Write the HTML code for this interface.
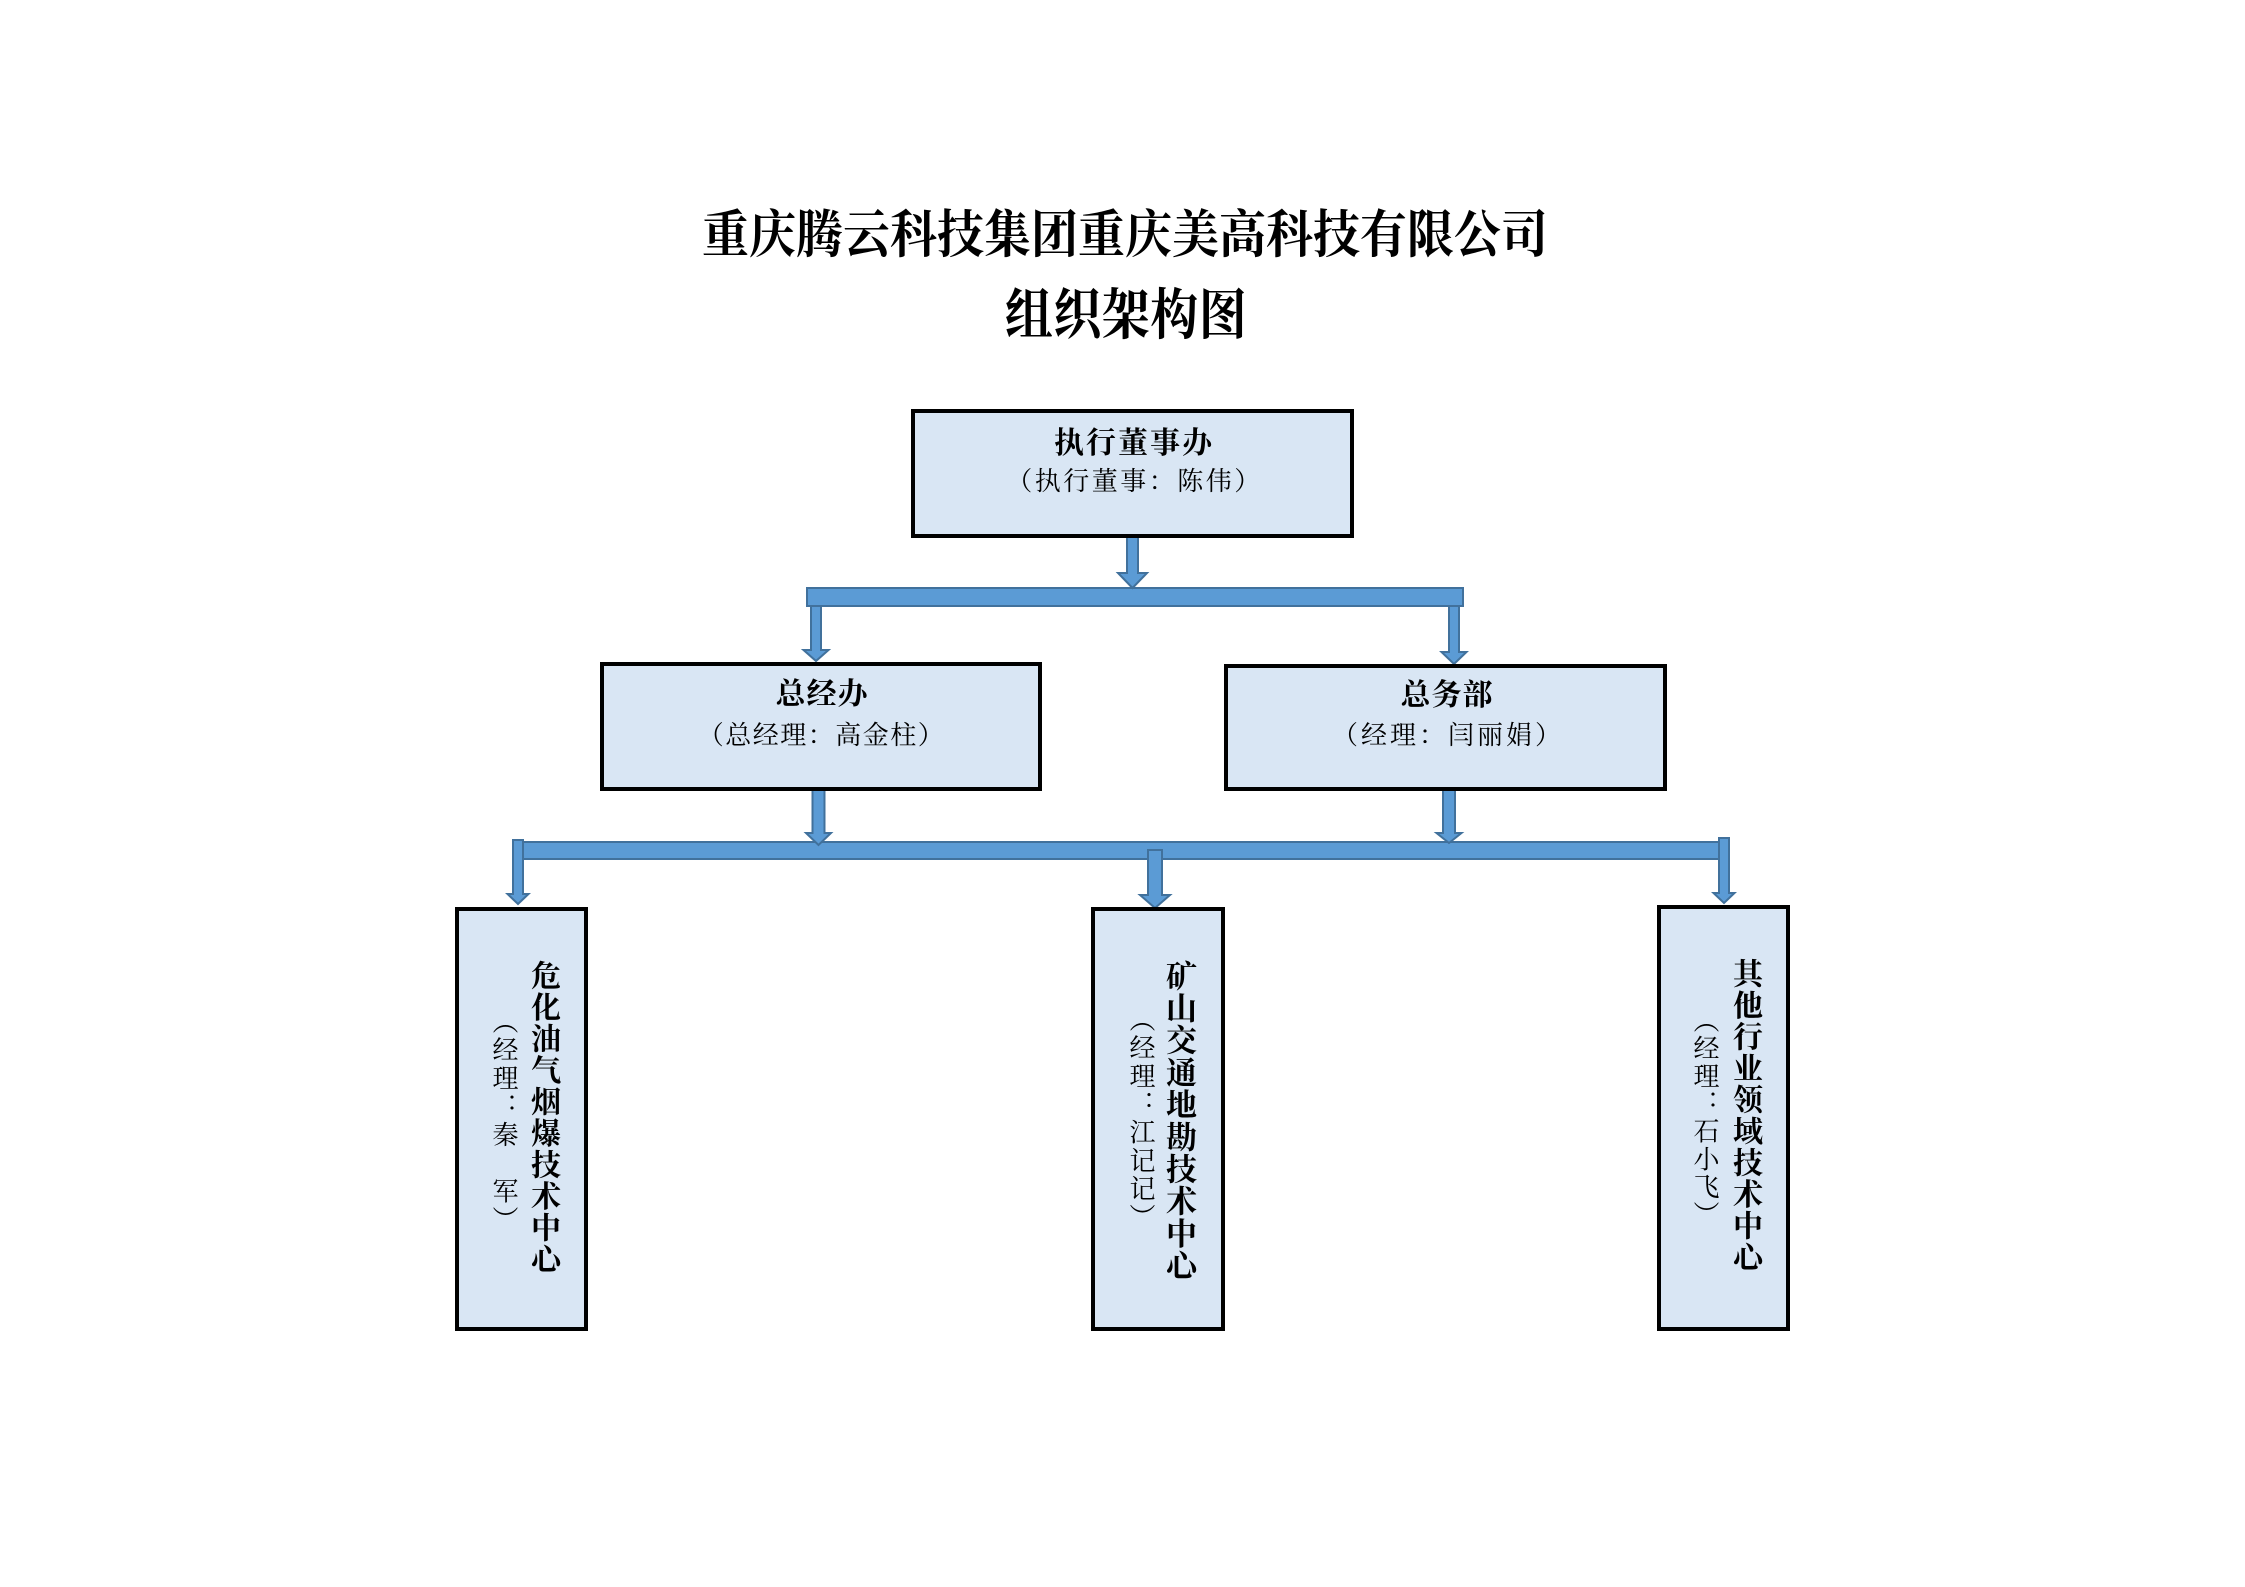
<!DOCTYPE html>
<html>
<head>
<meta charset="utf-8">
<style>
  html,body{margin:0;padding:0;background:#fff;}
  body{width:2245px;height:1587px;position:relative;overflow:hidden;}
  .box{position:absolute;box-sizing:border-box;border:4px solid #000;background:#d9e6f4;z-index:2;}
  .t{position:absolute;white-space:nowrap;text-align:center;color:#000;z-index:3;font-family:"Liberation Serif","Noto Serif CJK SC","Noto Sans CJK SC",serif;}
  .v{position:absolute;white-space:nowrap;writing-mode:vertical-rl;color:#000;z-index:3;font-family:"Liberation Serif","Noto Serif CJK SC","Noto Sans CJK SC",serif;}
  svg{position:absolute;left:0;top:0;z-index:1;}
</style>
</head>
<body>

<!-- Title -->
<div class="t" style="left:625px;width:1000px;top:213px;font-size:47px;line-height:47px;font-weight:bold;transform:scaleY(1.1);">重庆腾云科技集团重庆美高科技有限公司</div>
<div class="t" style="left:876px;width:500px;top:293px;font-size:48px;line-height:48px;font-weight:bold;letter-spacing:0.5px;transform:scaleY(1.15);">组织架构图</div>

<!-- Connectors -->
<svg width="2245" height="1587" viewBox="0 0 2245 1587">
  <g fill="#5b9bd5" stroke="#41719c" stroke-width="2" stroke-linejoin="miter">
    <rect x="807" y="588" width="656" height="18"/>
    <polygon points="1127,537 1138,537 1138,573 1147,573 1132.5,588 1118,573 1127,573"/>
    <polygon points="811,606 821,606 821,650 828.5,650 816,661 803.5,650 811,650"/>
    <polygon points="1449,606 1459,606 1459,652 1466.5,652 1454,664 1441.5,652 1449,652"/>

    <rect x="518" y="842" width="1206" height="17"/>
    <polygon points="812.5,790 824.5,790 824.5,833 831,833 818.5,845 806,833 812.5,833"/>
    <polygon points="1443,790 1455,790 1455,833 1461.5,833 1449,843 1436.5,833 1443,833"/>
    <polygon points="513,840 523,840 523,894 528.5,894 518,904 507.5,894 513,894"/>
    <polygon points="1148,850 1162,850 1162,895 1170,895 1155,908 1140,895 1148,895"/>
    <polygon points="1719,838 1729,838 1729,893 1734.5,893 1724,903 1713.5,893 1719,893"/>
  </g>
</svg>

<!-- Boxes -->
<div class="box" style="left:911px;top:409px;width:443px;height:129px;"></div>
<div class="box" style="left:600px;top:662px;width:442px;height:129px;"></div>
<div class="box" style="left:1224px;top:664px;width:443px;height:127px;"></div>
<div class="box" style="left:455px;top:907px;width:133px;height:424px;"></div>
<div class="box" style="left:1091px;top:907px;width:134px;height:424px;"></div>
<div class="box" style="left:1657px;top:905px;width:133px;height:426px;"></div>

<!-- Box A text -->
<div class="t" style="left:932px;width:400px;top:429px;font-size:30px;line-height:30px;font-weight:bold;letter-spacing:2px;padding-left:2px;">执行董事办</div>
<div class="t" style="left:932px;width:400px;top:469px;font-size:26px;line-height:26px;letter-spacing:2.5px;padding-left:2.5px;">（执行董事：陈伟）</div>

<!-- Box B text -->
<div class="t" style="left:621px;width:400px;top:680px;font-size:30px;line-height:30px;font-weight:bold;letter-spacing:1px;padding-left:1px;">总经办</div>
<div class="t" style="left:620px;width:400px;top:723px;font-size:26px;line-height:26px;letter-spacing:1.5px;padding-left:1.5px;">（总经理：高金柱）</div>

<!-- Box C text -->
<div class="t" style="left:1246px;width:400px;top:681px;font-size:30px;line-height:30px;font-weight:bold;letter-spacing:1px;padding-left:1px;">总务部</div>
<div class="t" style="left:1245px;width:400px;top:723px;font-size:26px;line-height:26px;letter-spacing:3px;padding-left:3px;">（经理：闫丽娟）</div>

<!-- Box D text (vertical) -->
<div class="v" style="left:527px;top:960px;font-size:30px;line-height:30px;font-weight:bold;letter-spacing:1.5px;">危化油气烟爆技术中心</div>
<div class="v" style="left:490px;top:1008px;font-size:26px;line-height:26px;letter-spacing:2.3px;">（经理：秦　军）</div>

<!-- Box E text (vertical) -->
<div class="v" style="left:1163px;top:960px;font-size:31px;line-height:31px;font-weight:bold;letter-spacing:1.2px;">矿山交通地勘技术中心</div>
<div class="v" style="left:1127px;top:1006px;font-size:26px;line-height:26px;letter-spacing:2.2px;">（经理：江记记）</div>

<!-- Box F text (vertical) -->
<div class="v" style="left:1729px;top:958px;font-size:30px;line-height:30px;font-weight:bold;letter-spacing:1.5px;">其他行业领域技术中心</div>
<div class="v" style="left:1691px;top:1007px;font-size:26px;line-height:26px;letter-spacing:1.7px;">（经理：石小飞）</div>

</body>
</html>
